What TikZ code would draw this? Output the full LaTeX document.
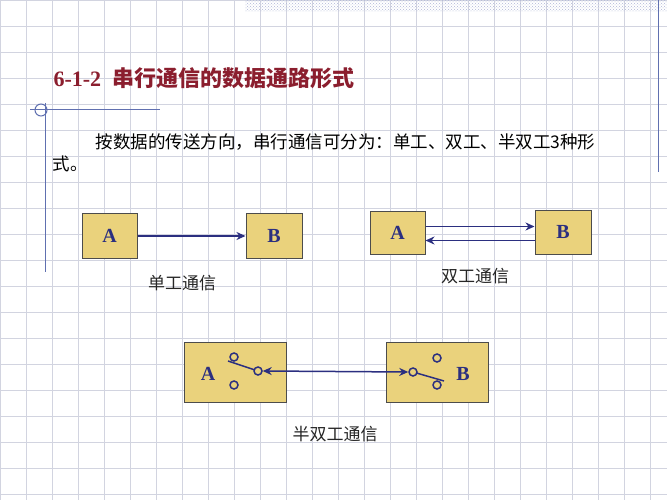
\documentclass[tikz,border=0pt]{standalone}
\usepackage{fontspec}
\setmainfont{Liberation Serif}
\newfontfamily\cjk{Noto Sans CJK SC}
\usetikzlibrary{arrows.meta,patterns}
\definecolor{boxfill}{HTML}{EAD27C}
\definecolor{navy}{HTML}{2B2F80}
\definecolor{title}{HTML}{8B1E2E}
\definecolor{gridc}{HTML}{D2D4E0}
\definecolor{linec}{HTML}{6070B0}
\tikzset{
 box/.style={draw=black!70,fill=boxfill,line width=1pt},
 lett/.style={font=\bfseries\fontsize{20}{20}\selectfont,text=navy},
 conn/.style={draw=navy,line width=1.5pt,-{Stealth[length=9pt,width=8pt]}},
 sw/.style={circle,draw=navy,line width=1.5pt,inner sep=0pt,minimum size=8pt,fill=boxfill},
 captext/.style={font=\cjk\fontsize{17}{17}\selectfont,text=black!85},
}
\begin{document}
\begin{tikzpicture}[x=1pt,y=-1pt]
\useasboundingbox (0,0) rectangle (667,500);
\fill[white] (0,0) rectangle (667,500);
\foreach \i in {0,26,...,667} \draw[gridc,line width=0.7pt] (\i,0) -- (\i,500);
\foreach \j in {0,26,...,500} \draw[gridc,line width=0.7pt] (0,\j) -- (667,\j);
\fill[pattern=crosshatch dots,pattern color=linec!50] (245,0) rectangle (667,12);
\draw[linec,line width=1pt] (658,0) -- (658,172);
\draw[linec,line width=1pt] (30,110) -- (160,110);
\draw[linec,line width=1pt] (45,103) -- (45,272);
\draw[linec,line width=1pt] (41,110) circle (6);
\node[anchor=west,text=title,font=\bfseries\fontsize{22}{22}\selectfont] (t) at (50,78) {6-1-2\ \ {\cjk 串行通信的数据通路形式}};
\node[anchor=west,font=\cjk\fontsize{17.5}{17.5}\selectfont] (p1) at (92,142) {按数据的传送方向，串行通信可分为：单工、双工、半双工3种形};
\node[anchor=west,font=\cjk\fontsize{17.5}{17.5}\selectfont] (p2) at (49,164) {式。};
% simplex
\node[box,minimum width=55pt,minimum height=45pt,lett] (sa) at (109.5,236) {A};
\node[box,minimum width=56pt,minimum height=45pt,lett] (sb) at (274,236) {B};
\draw[conn] (sa.east) -- (sb.west);
\node[captext] (sl) at (182,283) {单工通信};
% duplex
\node[box,minimum width=55pt,minimum height=43pt,lett] (da) at (397.5,232.5) {A};
\node[box,minimum width=56pt,minimum height=44pt,lett] (db) at (563,232) {B};
\draw[conn] ([yshift=6pt]da.east) -- ([yshift=6pt]db.west |- da.east);
\draw[conn] ([yshift=-8pt]db.west |- da.east) -- ([yshift=-8pt]da.east);
\node[captext] (dl) at (475,276) {双工通信};
% half duplex
\node[box,minimum width=102pt,minimum height=60pt] (ha) at (235,372) {};
\node[box,minimum width=102pt,minimum height=60pt] (hb) at (437,372) {};
\node[lett] (hal) at (208,374) {A};
\node[lett] (hbl) at (463,374) {B};
\draw[navy,line width=1.5pt] (228,361) -- (258,371);
\draw[navy,line width=1.5pt] (413,372) -- (444,381);
\node[sw] (a1) at (234,357) {};
\node[sw] (a2) at (234,385) {};
\node[sw] (a3) at (258,371) {};
\node[sw] (b1) at (437,358) {};
\node[sw] (b2) at (437,385) {};
\node[sw] (b3) at (413,372) {};
\draw[navy,line width=1.5pt,{Stealth[length=9pt,width=8pt]}-{Stealth[length=9pt,width=8pt]}] (a3.east) -- (b3.west);
\node[captext] (hl) at (335,434) {半双工通信};
\end{tikzpicture}
\end{document}
